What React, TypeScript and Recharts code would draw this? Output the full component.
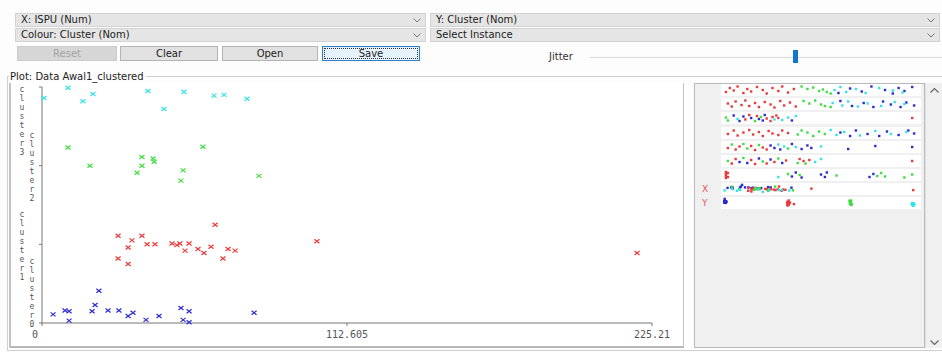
import { Scatter, ScatterChart, XAxis, YAxis } from "recharts";

const clusterNames = ["cluster0", "cluster1", "cluster2", "cluster3"];
const clusterColors = ["#2a2ad6", "#ec3838", "#3fdc3f", "#30e2ea"];
const ispuTicks = [0, 112.605, 225.21];
const clusterTicks = [0, 1, 2, 3];

// [ISPU, cluster index + jitter]
const cluster0Points = [
  [4.1, 0.11], [8.5, 0.16], [10.0, 0.15], [10.0, 0.03], [18.5, 0.15], [19.6, 0.23],
  [21.0, 0.41], [24.4, 0.16], [28.4, 0.16], [31.8, 0.09], [33.6, 0.13], [38.4, 0.04],
  [43.2, 0.09], [51.3, 0.19], [52.1, 0.04], [54.3, 0.15], [54.3, 0.01], [78.3, 0.13],
];
const cluster1Points = [
  [28.1, 1.11], [33.2, 1.05], [36.9, 1.11], [31.8, 0.96], [38.8, 1.0], [41.7, 1.0],
  [28.1, 0.82], [31.8, 0.75], [48.0, 1.01], [49.8, 0.99], [50.9, 1.01], [54.3, 1.01],
  [52.8, 0.92], [57.6, 0.94], [59.8, 0.89], [62.4, 0.97], [63.9, 1.25], [66.8, 0.82],
  [68.7, 0.94], [71.3, 0.92], [101.5, 1.04], [219.7, 0.89],
];
const cluster2Points = [
  [9.6, 2.23], [17.7, 2.0], [36.9, 2.11], [41.0, 2.09], [41.4, 2.05], [36.9, 2.0],
  [35.1, 1.91], [59.4, 2.24], [52.1, 1.94], [51.3, 1.81], [80.1, 1.87],
];
const cluster3Points = [
  [0.7, 2.86], [9.6, 2.99], [15.1, 2.82], [18.8, 2.91], [39.1, 2.95], [45.0, 2.72],
  [52.4, 2.94], [63.5, 2.89], [67.2, 2.9], [75.7, 2.85],
];
const clusterPoints = [cluster0Points, cluster1Points, cluster2Points, cluster3Points];

// attribute strips: [position 0..1, jitter 0..1, cluster]
const strip1 = [
  [0.01, 0.3, 1], [0.03, 0.7, 1], [0.05, 0.45, 1], [0.07, 0.85, 1], [0.1, 0.2, 1], [0.12, 0.6, 1],
  [0.14, 0.35, 1], [0.17, 0.8, 1], [0.2, 0.5, 1], [0.22, 0.15, 1], [0.25, 0.7, 1], [0.28, 0.4, 1],
  [0.3, 0.85, 1], [0.33, 0.25, 1], [0.36, 0.6, 1],
  [0.4, 0.85, 2], [0.43, 0.6, 2], [0.46, 0.75, 2], [0.49, 0.4, 2], [0.51, 0.55, 2], [0.53, 0.3, 2], [0.55, 0.15, 2],
  [0.57, 0.5, 3], [0.6, 0.8, 3], [0.63, 0.3, 3], [0.68, 0.6, 3], [0.73, 0.2, 3], [0.8, 0.7, 3], [0.87, 0.45, 3], [0.92, 0.25, 3],
  [0.59, 0.2, 0], [0.65, 0.65, 0], [0.71, 0.35, 0], [0.76, 0.85, 0], [0.83, 0.5, 0], [0.87, 0.15, 0],
  [0.9, 0.7, 0], [0.93, 0.4, 0], [0.97, 0.8, 0],
];
const strip2 = [
  [0.02, 0.55, 1], [0.04, 0.25, 1], [0.06, 0.75, 1], [0.09, 0.4, 1], [0.11, 0.85, 1], [0.13, 0.3, 1],
  [0.16, 0.6, 1], [0.18, 0.2, 1], [0.21, 0.7, 1], [0.24, 0.45, 1], [0.26, 0.15, 1], [0.29, 0.8, 1],
  [0.31, 0.35, 1], [0.34, 0.65, 1], [0.37, 0.25, 1],
  [0.41, 0.8, 2], [0.44, 0.55, 2], [0.47, 0.85, 2], [0.5, 0.45, 2], [0.52, 0.3, 2], [0.55, 0.2, 2],
  [0.56, 0.6, 3], [0.61, 0.35, 3], [0.64, 0.75, 3], [0.69, 0.25, 3], [0.74, 0.55, 3], [0.81, 0.3, 3], [0.88, 0.7, 3], [0.93, 0.5, 3],
  [0.6, 0.8, 0], [0.66, 0.3, 0], [0.72, 0.6, 0], [0.77, 0.2, 0], [0.82, 0.75, 0], [0.86, 0.45, 0],
  [0.91, 0.2, 0], [0.94, 0.65, 0], [0.98, 0.35, 0],
];
const strip3 = [
  [0.01, 0.55, 2], [0.02, 0.25, 2], [0.05, 0.75, 0], [0.07, 0.4, 3], [0.08, 0.2, 0], [0.1, 0.65, 0],
  [0.11, 0.35, 1], [0.13, 0.8, 1], [0.14, 0.5, 0], [0.16, 0.2, 2], [0.17, 0.7, 1], [0.18, 0.4, 0],
  [0.19, 0.6, 2], [0.2, 0.25, 0], [0.21, 0.8, 0], [0.22, 0.45, 1], [0.24, 0.2, 1], [0.25, 0.6, 1],
  [0.26, 0.35, 3], [0.27, 0.75, 1], [0.28, 0.5, 1], [0.3, 0.3, 3], [0.33, 0.55, 3], [0.35, 0.25, 0],
  [0.37, 0.7, 3], [0.97, 0.5, 1],
];
const strip4 = [
  [0.02, 0.4, 1], [0.05, 0.75, 1], [0.07, 0.25, 1], [0.1, 0.55, 1], [0.13, 0.8, 1], [0.15, 0.35, 1],
  [0.18, 0.6, 1], [0.2, 0.2, 1], [0.23, 0.7, 1], [0.25, 0.45, 1], [0.28, 0.3, 1], [0.3, 0.75, 1], [0.33, 0.5, 1],
  [0.38, 0.35, 2], [0.4, 0.75, 2], [0.43, 0.55, 2], [0.46, 0.2, 2], [0.49, 0.65, 2], [0.52, 0.4, 2],
  [0.55, 0.8, 3], [0.58, 0.3, 3], [0.62, 0.6, 3], [0.7, 0.25, 3], [0.78, 0.7, 3], [0.86, 0.4, 3], [0.94, 0.6, 3],
  [0.6, 0.55, 0], [0.65, 0.2, 0], [0.68, 0.75, 0], [0.74, 0.4, 0], [0.8, 0.2, 0], [0.84, 0.65, 0],
  [0.9, 0.3, 0], [0.95, 0.75, 0], [0.98, 0.45, 0],
];
const strip5 = [
  [0.02, 0.4, 1], [0.04, 0.75, 2], [0.06, 0.25, 1], [0.08, 0.55, 1], [0.1, 0.8, 2], [0.12, 0.35, 2],
  [0.14, 0.6, 1], [0.16, 0.2, 1], [0.18, 0.7, 2], [0.2, 0.45, 1], [0.22, 0.25, 1], [0.24, 0.65, 0],
  [0.26, 0.4, 0], [0.28, 0.75, 3], [0.29, 0.25, 0], [0.31, 0.55, 3], [0.33, 0.35, 2], [0.35, 0.8, 0],
  [0.37, 0.5, 3], [0.4, 0.3, 0], [0.43, 0.65, 0], [0.45, 0.4, 0], [0.5, 0.55, 3], [0.64, 0.3, 0],
  [0.78, 0.6, 0], [0.97, 0.5, 0],
];
const strip6 = [
  [0.02, 0.5, 2], [0.04, 0.25, 1], [0.06, 0.7, 1], [0.08, 0.4, 0], [0.1, 0.8, 2], [0.12, 0.3, 0],
  [0.14, 0.6, 1], [0.16, 0.2, 1], [0.18, 0.75, 0], [0.2, 0.45, 2], [0.22, 0.25, 1], [0.24, 0.65, 0],
  [0.26, 0.4, 1], [0.28, 0.75, 2], [0.3, 0.3, 0], [0.32, 0.55, 1],
  [0.38, 0.3, 2], [0.39, 0.7, 1], [0.41, 0.5, 1], [0.42, 0.25, 2], [0.44, 0.6, 1], [0.47, 0.4, 3],
  [0.5, 0.7, 3], [0.97, 0.5, 1],
];
const strip7 = [
  [0.01, 0.2, 1], [0.01, 0.4, 1], [0.01, 0.6, 1], [0.01, 0.8, 1], [0.02, 0.3, 1], [0.02, 0.7, 1],
  [0.28, 0.3, 3], [0.33, 0.6, 2], [0.35, 0.35, 0], [0.37, 0.75, 0], [0.39, 0.5, 2], [0.4, 0.25, 0],
  [0.5, 0.55, 0], [0.52, 0.3, 0], [0.53, 0.75, 0], [0.58, 0.45, 2], [0.75, 0.3, 0], [0.77, 0.6, 0],
  [0.79, 0.4, 2], [0.81, 0.7, 2], [0.83, 0.35, 2], [0.93, 0.25, 2], [0.97, 0.55, 2],
];

const FONT = "'DejaVu Sans', Verdana, sans-serif";
const MONO = "'DejaVu Sans Mono', 'Liberation Mono', monospace";

type Pt = { x: number; y: number; c: number };

const toPts = (rows: number[][]): Pt[] => rows.map(([x, y, c]) => ({ x, y, c }));

const mainSeries = clusterPoints.map((rows) => rows.map(([x, y]) => ({ x, y })));

// ISPU strip: x = ISPU, y = jitter around the cluster
const ispuStrip: Pt[] = clusterPoints.flatMap((rows, c) =>
  rows.map(([x, y]) => ({ x, y: y - c, c }))
);
// Cluster strip: x = cluster (tiny offset by ISPU), y = jitter
const clusterStrip: Pt[] = clusterPoints.flatMap((rows, c) =>
  rows.map(([x, y]) => ({ x: c + (x / 225.21) * 0.12, y: y - c, c }))
);

function XMark(props: any, color: string) {
  const { cx, cy } = props;
  if (cx == null || cy == null) return <g />;
  return (
    <path
      d={`M${cx - 2.5},${cy - 2}L${cx + 2.5},${cy + 2}M${cx - 2.5},${cy + 2}L${cx + 2.5},${cy - 2}`}
      stroke={color}
      strokeWidth={1.2}
      fill="none"
    />
  );
}

function ClusterTick({ y, payload }: any) {
  const v = payload.value as number;
  const name = clusterNames[v];
  const start = v === 3 ? 2 : v === 0 ? -62 : -30;
  const colX = v % 2 === 1 ? 12 : 22;
  return (
    <g>
      {name.split("").map((ch, i) => (
        <text
          key={i}
          x={colX}
          y={y + start + i * 9}
          textAnchor="middle"
          dominantBaseline="central"
          fontSize={8}
          fontFamily={MONO}
          fill="#555"
        >
          {ch}
        </text>
      ))}
    </g>
  );
}

function IspuTick({ x, y, payload, index }: any) {
  return (
    <text
      x={x + (index === 0 ? -7 : 0)}
      y={y + 10}
      textAnchor="middle"
      fontSize={10}
      fontFamily={MONO}
      fill="#555"
    >
      {payload.value}
    </text>
  );
}

function Chevron({ left, top }: { left: number; top: number }) {
  return (
    <svg style={{ position: "absolute", left, top }} width={8} height={5}>
      <polyline points="0.5,0.5 4,4 7.5,0.5" fill="none" stroke="#777" strokeWidth={1} />
    </svg>
  );
}

function Combo({ left, top, width, label }: { left: number; top: number; width: number; label: string }) {
  return (
    <div
      style={{
        position: "absolute",
        left,
        top,
        width,
        height: 14,
        boxSizing: "border-box",
        background: "#e5e5e5",
        border: "1px solid #d2d2d2",
        fontSize: 10,
        lineHeight: "12px",
        paddingLeft: 5,
        color: "#222",
      }}
    >
      {label}
      <Chevron left={width - 14} top={4} />
    </div>
  );
}

function Button({ left, width, label, kind }: { left: number; width: number; label: string; kind?: string }) {
  const disabled = kind === "disabled";
  const focused = kind === "focused";
  return (
    <div
      style={{
        position: "absolute",
        left,
        top: 46,
        width,
        height: 15,
        boxSizing: "border-box",
        background: disabled ? "#d6d6d6" : focused ? "#e5f1fb" : "#e1e1e1",
        border: focused ? "1px solid #2f7fc8" : disabled ? "1px solid #cccccc" : "1px solid #b4b4b4",
        color: disabled ? "#a3a3a3" : "#222",
        fontSize: 10,
        lineHeight: "13px",
        textAlign: "center",
      }}
    >
      {focused && (
        <div
          style={{
            position: "absolute",
            left: 1,
            top: 1,
            right: 1,
            bottom: 1,
            border: "1px dotted #333",
          }}
        />
      )}
      {label}
    </div>
  );
}

function Strip({ top, points, xDomain, yDomain }: { top: number; points: Pt[]; xDomain: number[]; yDomain: number[] }) {
  return (
    <div style={{ position: "absolute", left: 721, top, width: 200, height: 12, background: "#fff" }}>
      <ScatterChart width={200} height={12} margin={{ top: 1, right: 3, bottom: 1, left: 3 }}>
        <XAxis type="number" dataKey="x" domain={xDomain} hide />
        <YAxis type="number" dataKey="y" domain={yDomain} hide />
        {clusterColors.map((color, c) => (
          <Scatter
            key={c}
            data={points.filter((p) => p.c === c)}
            isAnimationActive={false}
            shape={(p: any) =>
              p.cx == null ? <g /> : <rect x={p.cx - 1.2} y={p.cy - 1.2} width={2.4} height={2.4} fill={color} />
            }
          />
        ))}
      </ScatterChart>
    </div>
  );
}

const stripTops = [84, 98, 112, 127, 141, 155, 169, 183, 197];

export default function App() {
  const attrStrips = [strip1, strip2, strip3, strip4, strip5, strip6, strip7].map(toPts);
  return (
    <div
      style={{
        position: "absolute",
        left: 0,
        top: 0,
        width: 942,
        height: 352,
        background: "#fdfdfd",
        fontFamily: FONT,
        overflow: "hidden",
      }}
    >
      <Combo left={15} top={13} width={411} label="X: ISPU (Num)" />
      <Combo left={15} top={28} width={411} label="Colour: Cluster (Nom)" />
      <Combo left={430} top={13} width={510} label="Y: Cluster (Nom)" />
      <Combo left={430} top={28} width={510} label="Select Instance" />

      <Button left={17} width={100} label="Reset" kind="disabled" />
      <Button left={120} width={98} label="Clear" />
      <Button left={222} width={96} label="Open" />
      <Button left={322} width={98} label="Save" kind="focused" />

      <div style={{ position: "absolute", left: 549, top: 51, fontSize: 10, color: "#333" }}>Jitter</div>
      <div style={{ position: "absolute", left: 590, top: 57, width: 352, height: 1, background: "#d8d8d8" }} />
      <div style={{ position: "absolute", left: 793, top: 50, width: 5, height: 13, background: "#1373d4" }} />

      {/* titled border */}
      <div
        style={{
          position: "absolute",
          left: 7,
          top: 76,
          width: 945,
          height: 273,
          border: "1px solid #d0d0d0",
        }}
      />
      <div
        style={{
          position: "absolute",
          left: 9,
          top: 71,
          fontSize: 10,
          color: "#222",
          background: "#fdfdfd",
          padding: "0 2px 0 1px",
        }}
      >
        Plot: Data Awal1_clustered
      </div>

      {/* main plot */}
      <div
        style={{
          position: "absolute",
          left: 9,
          top: 83,
          width: 675,
          height: 265,
          boxSizing: "border-box",
          background: "#fff",
          borderLeft: "2px solid #c4c4c4",
          borderBottom: "2px solid #b8b8b8",
          borderRight: "1px solid #c4c4c4",
        }}
      />
      <div style={{ position: "absolute", left: 10, top: 78 }}>
        <ScatterChart width={672} height={266} margin={{ top: 9, right: 30, bottom: 0, left: 0 }}>
          <XAxis
            type="number"
            dataKey="x"
            domain={[0, 225.21]}
            ticks={ispuTicks}
            height={21}
            tickSize={3}
            stroke="#777"
            tick={<IspuTick />}
            interval={0}
          />
          <YAxis
            type="number"
            dataKey="y"
            domain={[0, 3]}
            ticks={clusterTicks}
            width={32}
            tickSize={3}
            stroke="#777"
            tick={<ClusterTick />}
            interval={0}
          />
          {mainSeries.map((data, c) => (
            <Scatter
              key={c}
              data={data}
              isAnimationActive={false}
              shape={(p: any) => XMark(p, clusterColors[c])}
            />
          ))}
        </ScatterChart>
      </div>

      {/* attribute panel */}
      <div
        style={{
          position: "absolute",
          left: 694,
          top: 83,
          width: 231,
          height: 265,
          boxSizing: "border-box",
          background: "#f0f0f0",
          border: "1px solid #b9b9b9",
        }}
      />
      <div
        style={{
          position: "absolute",
          left: 925,
          top: 83,
          width: 17,
          height: 265,
          background: "#f0f0f0",
          borderLeft: "1px solid #e2e2e2",
        }}
      />
      <svg style={{ position: "absolute", left: 930, top: 88 }} width={9} height={5}>
        <polyline points="0.5,4.5 4.5,0.5 8.5,4.5" fill="none" stroke="#666" strokeWidth={1.2} />
      </svg>
      <svg style={{ position: "absolute", left: 930, top: 340 }} width={9} height={5}>
        <polyline points="0.5,0.5 4.5,4.5 8.5,0.5" fill="none" stroke="#666" strokeWidth={1.2} />
      </svg>

      {attrStrips.map((pts, i) => (
        <Strip key={i} top={stripTops[i]} points={pts} xDomain={[0, 1]} yDomain={[0, 1]} />
      ))}
      <Strip top={stripTops[7]} points={ispuStrip} xDomain={[0, 225.21]} yDomain={[-0.5, 0.5]} />
      <Strip top={stripTops[8]} points={clusterStrip} xDomain={[0, 3.1]} yDomain={[-0.5, 0.5]} />
      <div style={{ position: "absolute", left: 702, top: 184, fontSize: 9, color: "#e05a5a" }}>X</div>
      <div style={{ position: "absolute", left: 702, top: 198, fontSize: 9, color: "#e05a5a" }}>Y</div>
    </div>
  );
}
